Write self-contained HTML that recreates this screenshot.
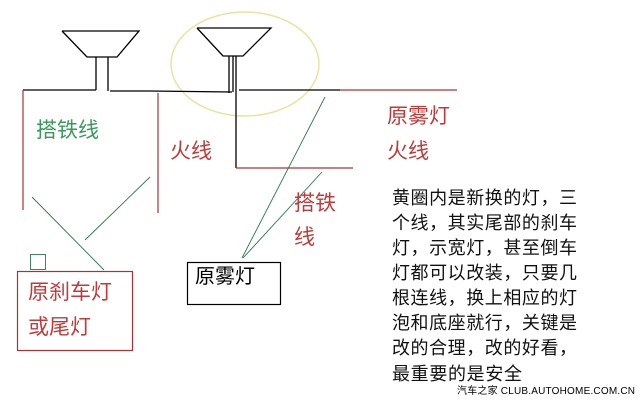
<!DOCTYPE html>
<html><head><meta charset="utf-8"><style>
html,body{margin:0;padding:0;background:#fff;}
svg{display:block;}
text{font-family:"Liberation Sans","Noto Sans CJK SC",sans-serif;}
</style></head><body>
<svg width="640" height="400" viewBox="0 0 640 400" xmlns="http://www.w3.org/2000/svg">
<rect width="640" height="400" fill="#fff"/>
<ellipse cx="245" cy="64" rx="74" ry="52" fill="none" stroke="#e8e4a0" stroke-width="1.5"/>
<g stroke="#000" stroke-width="1.3" fill="none">
<polyline points="62,31 139,31 117,57 87,57 62,31"/>
<line x1="96" y1="57" x2="96" y2="90"/><line x1="108" y1="57" x2="108" y2="91"/>
<polyline points="23,90 96,90"/><polyline points="110,91 150,91 232,92"/>
<polyline points="197,28 271,28 243,56 223,56 197,28"/>
<line x1="229" y1="56" x2="229" y2="93"/><line x1="233" y1="56" x2="233" y2="92"/><line x1="236" y1="56" x2="236" y2="168"/>
<line x1="239" y1="90" x2="340" y2="90"/>
</g>
<g stroke="#b03030" stroke-width="1.2" fill="none">
<line x1="340" y1="90" x2="457" y2="90"/>
<line x1="23" y1="90" x2="23" y2="210"/>
<line x1="158" y1="93" x2="158" y2="213"/>
<line x1="236" y1="168" x2="353" y2="168"/>
<rect x="17.5" y="271.5" width="115" height="79"/>
</g>
<g stroke="#2a7a4a" stroke-width="0.9" fill="none">
<line x1="325" y1="97" x2="242" y2="258"/>
<line x1="322" y1="172" x2="243" y2="258"/>
<line x1="32" y1="197" x2="104" y2="270"/>
<line x1="85" y1="240" x2="150" y2="177"/>
<rect x="30.5" y="254.5" width="15" height="15"/>
</g>
<rect x="187.5" y="262.5" width="93" height="42" fill="none" stroke="#000" stroke-width="1.2"/>
<g font-size="21">
<text x="36" y="137" fill="#3a9a5a">搭铁线</text>
<text x="170" y="158" fill="#c03a3a">火线</text>
<text x="387" y="123" fill="#c03a3a">原雾灯</text>
<text x="387" y="158" fill="#c03a3a">火线</text>
<text x="294" y="210" fill="#c03a3a">搭铁</text>
<text x="294" y="244" fill="#c03a3a">线</text>
<text x="28" y="299" fill="#c03a3a">原刹车灯</text>
<text x="28" y="334" fill="#c03a3a">或尾灯</text>
<text x="195" y="283" fill="#000" font-size="20">原雾灯</text>
</g>
<g font-size="18" fill="#111">
<text x="392" y="204" textLength="185">黄圈内是新换的灯，三</text>
<text x="392" y="229" textLength="185">个线，其实尾部的刹车</text>
<text x="392" y="254" textLength="185">灯，示宽灯，甚至倒车</text>
<text x="392" y="279" textLength="185">灯都可以改装，只要几</text>
<text x="392" y="304" textLength="185">根连线，换上相应的灯</text>
<text x="392" y="329" textLength="185">泡和底座就行，关键是</text>
<text x="392" y="354" textLength="185">改的合理，改的好看，</text>
<text x="392" y="380" textLength="130">最重要的是安全</text>
</g>
<text x="457" y="394" font-size="10" fill="#000" textLength="178">汽车之家 CLUB.AUTOHOME.COM.CN</text>
</svg>
</body></html>
